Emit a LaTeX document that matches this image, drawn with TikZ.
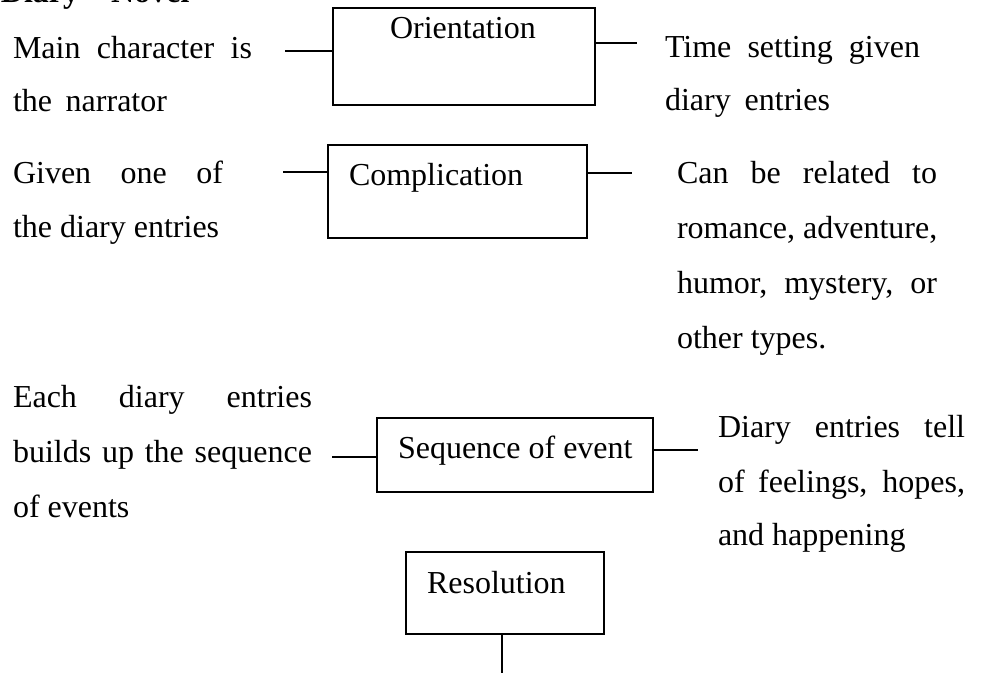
\documentclass[tikz,border=0pt]{standalone}
\usepackage{fontspec}
\setmainfont{Liberation Serif}
\begin{document}
\begin{tikzpicture}[x=1pt,y=-1pt,
  every node/.style={inner sep=0pt,outer sep=0pt},
  txt/.style={anchor=base west,font=\fontsize{32}{40}\selectfont},
  stagebox/.style={draw,line width=1.8pt,rectangle},
  link/.style={line width=1.8pt}]
\useasboundingbox (0,0) rectangle (984,672);

% heading (runs past the top edge of the page)
\node[txt,font=\fontsize{32}{40}\selectfont\bfseries] (head) at (1,2) {Diary -- Novel};

% stage boxes
\node[stagebox,minimum width=262pt,minimum height=97pt] (obox) at (464,56.5) {};
\node[stagebox,minimum width=259pt,minimum height=93pt] (cbox) at (457.5,191.5) {};
\node[stagebox,minimum width=276pt,minimum height=74pt] (sbox) at (515,455) {};
\node[stagebox,minimum width=198pt,minimum height=82pt] (rbox) at (505,593) {};

% stage names
\node[txt] (olab) at (390,38) {Orientation};
\node[txt] (clab) at (349,185) {Complication};
\node[txt] (slab) at (398,458) {Sequence of event};
\node[txt] (rlab) at (427,593) {Resolution};

% orientation notes
\node[txt] (o1a) at (13,58) {\makebox[239pt][s]{Main character is}};
\node[txt] (o1b) at (13,111) {\makebox[154pt][s]{the narrator}};
\node[txt] (o2a) at (665,57) {\makebox[255pt][s]{Time setting given}};
\node[txt] (o2b) at (665,110) {\makebox[165pt][s]{diary entries}};

% complication notes
\node[txt] (c1a) at (13,183) {\makebox[210pt][s]{Given one of}};
\node[txt] (c1b) at (13,237) {the diary entries};
\node[txt] (c2a) at (677,183) {\makebox[260pt][s]{Can be related to}};
\node[txt] (c2b) at (677,238) {romance, adventure,};
\node[txt] (c2c) at (677,293) {\makebox[260pt][s]{humor, mystery, or}};
\node[txt] (c2d) at (677,348) {other types.};

% sequence notes
\node[txt] (s1a) at (13,407) {\makebox[299pt][s]{Each diary entries}};
\node[txt] (s1b) at (13,462) {\makebox[299pt][s]{builds up the sequence}};
\node[txt] (s1c) at (13,517) {of events};
\node[txt] (s2a) at (718,437) {\makebox[247pt][s]{Diary entries tell}};
\node[txt] (s2b) at (718,492) {\makebox[247pt][s]{of feelings, hopes,}};
\node[txt] (s2c) at (718,545) {and happening};

% free ends of the connectors
\coordinate (ol) at (285,51);
\coordinate (or) at (637,43);
\coordinate (cl) at (283,172);
\coordinate (cr) at (632,173);
\coordinate (sl) at (332,457);
\coordinate (sr) at (698,450);
\coordinate (rd) at (502,680);

% connectors
\draw[link] (ol) -- (ol -| obox.west);
\draw[link] (or -| obox.east) -- (or);
\draw[link] (cl) -- (cl -| cbox.west);
\draw[link] (cr -| cbox.east) -- (cr);
\draw[link] (sl) -- (sl -| sbox.west);
\draw[link] (sr -| sbox.east) -- (sr);
\draw[link] (rd |- rbox.south) -- (rd);
\end{tikzpicture}
\end{document}
